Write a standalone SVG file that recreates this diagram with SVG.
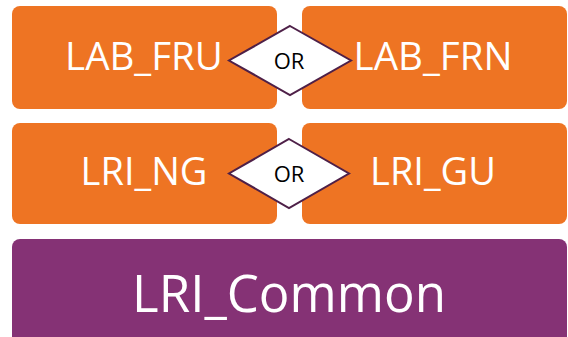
<svg xmlns="http://www.w3.org/2000/svg" width="568" height="337" viewBox="0 0 568 337">
<style>
.box{fill:#EE7423}
.common{fill:#853275}
.lbl{font-family:"Open Sans","Liberation Sans",sans-serif;fill:#fff;text-anchor:middle}
.dia{fill:#fff;stroke:#4E2048;stroke-width:2}
.or{font-family:"Open Sans","Liberation Sans",sans-serif;font-size:22px;fill:#000;text-anchor:middle}
</style>
<rect width="568" height="337" fill="#fff"/>
<g id="lab_fru"><rect class="box" x="12" y="6" width="265" height="103" rx="8"/><text class="lbl" x="144" y="70" font-size="38.5">LAB_FRU</text></g>
<g id="lab_frn"><rect class="box" x="302" y="6" width="265" height="103" rx="8"/><text class="lbl" x="433" y="70" font-size="38.5">LAB_FRN</text></g>
<g id="lri_ng"><rect class="box" x="12" y="123" width="265" height="101" rx="8"/><text class="lbl" x="144" y="185" font-size="38">LRI_NG</text></g>
<g id="lri_gu"><rect class="box" x="302" y="123" width="265" height="101" rx="8"/><text class="lbl" x="433" y="185" font-size="38">LRI_GU</text></g>
<g id="lri_common"><rect class="common" x="12" y="239" width="555" height="110" rx="8"/><text class="lbl" x="289" y="312" font-size="51">LRI_Common</text></g>
<g id="or1"><polygon class="dia" points="290,26 351,60.5 290,95 229,60.5"/><text class="or" x="289" y="69">OR</text></g>
<g id="or2"><polygon class="dia" points="289,139 349,173.5 289,208 229,173.5"/><text class="or" x="289" y="182">OR</text></g>
<g id="connectors"></g>
</svg>
